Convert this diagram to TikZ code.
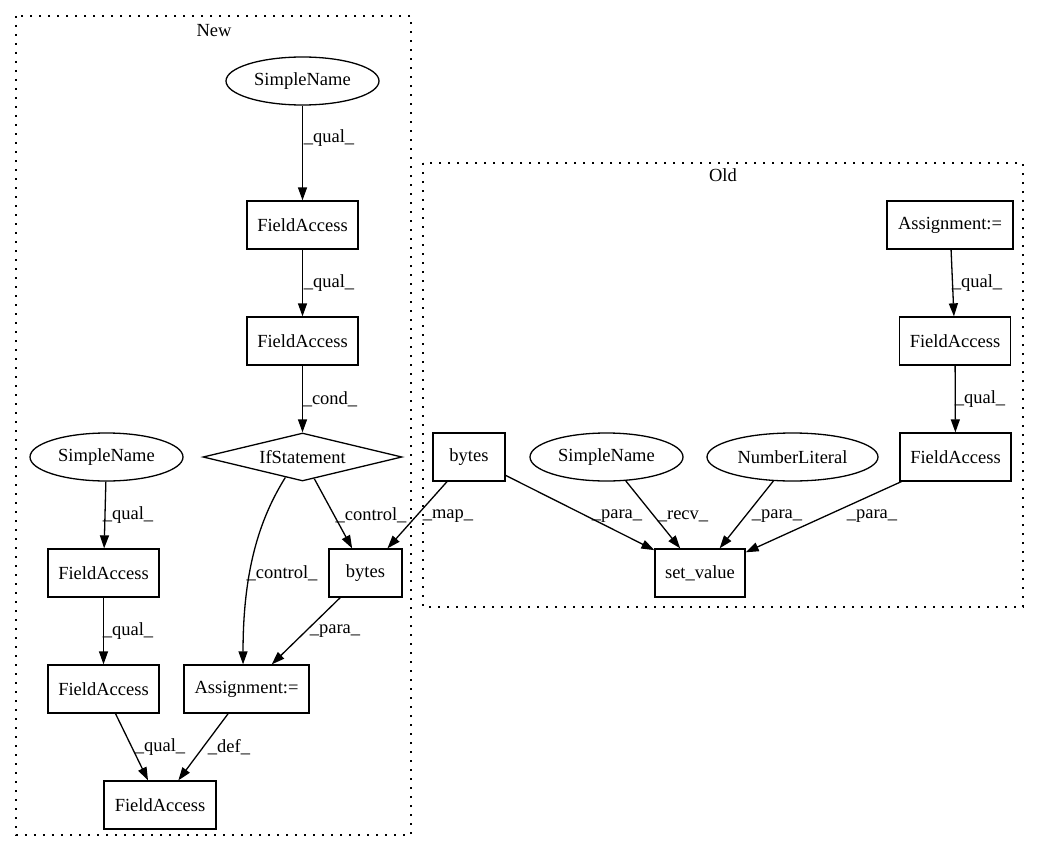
\documentclass[tikz,border=0pt]{standalone}
\usepackage{fontspec}
\setmainfont{Liberation Serif}
\usepackage{tikz}
\usetikzlibrary{arrows.meta}
\usetikzlibrary{shapes.geometric}

\begin{document}
\begin{tikzpicture}[x=1pt, y=-1pt,
	font=\fontsize{18.5}{22}\selectfont,
	box/.style={draw, line width=1.3pt, rectangle, minimum height=48pt, inner sep=0pt},
	oval/.style={draw, line width=1.3pt, ellipse, minimum height=48pt, inner sep=0pt},
	edge/.style={line width=1.3pt, -{Triangle[length=13pt, width=9pt]}},
	lbl/.style={inner sep=0pt},
	cluster/.style={line width=1.3pt, dash pattern=on 1.6pt off 7.4pt}]
	\useasboundingbox (0, 0) rectangle (1040, 856);

	% clusters
	\draw[cluster] (16, 16) rectangle (411, 835);
	\node[lbl] (newlbl) at (214, 31) {New};
	\draw[cluster] (423, 163) rectangle (1023, 607);
	\node[lbl] (oldlbl) at (723, 175) {Old};

	% New
	\node[oval, minimum width=153pt] (nsn) at (302.5, 81) {SimpleName};
	\node[box, minimum width=111pt] (nfa1) at (302.5, 225) {FieldAccess};
	\node[box, minimum width=111pt] (nfa2) at (302.5, 341) {FieldAccess};
	\node[draw, line width=1.3pt, diamond, aspect=4, minimum width=199pt, minimum height=48pt, inner sep=0pt] (nif) at (302.5, 457) {IfStatement};
	\node[box, minimum width=73pt] (nbytes) at (365.5, 573) {bytes};
	\node[oval, minimum width=153pt] (nsn2) at (106.5, 457) {SimpleName};
	\node[box, minimum width=111pt] (nfa3) at (103.5, 573) {FieldAccess};
	\node[box, minimum width=111pt] (nfa4) at (103.5, 689) {FieldAccess};
	\node[box, minimum width=125pt] (nassign) at (246.5, 689) {Assignment:=};
	\node[box, minimum width=112pt] (nfa5) at (160, 805) {FieldAccess};

	% Old
	\node[box, minimum width=126pt] (oassign) at (950, 225) {Assignment:=};
	\node[box, minimum width=111pt] (ofa1) at (955, 341) {FieldAccess};
	\node[box, minimum width=111pt] (ofa2) at (955.5, 457) {FieldAccess};
	\node[box, minimum width=72pt] (obytes) at (469, 457) {bytes};
	\node[oval, minimum width=153pt] (osn) at (606.5, 457) {SimpleName};
	\node[oval, minimum width=171pt] (onum) at (792.5, 457) {NumberLiteral};
	\node[box, minimum width=90pt] (oset) at (700, 573) {set\_value};

	% edges New
	\draw[edge] (nsn) -- (nfa1);
	\node[lbl] (l1) at (329, 138) {\_qual\_};
	\draw[edge] (nfa1) -- (nfa2);
	\node[lbl] (l2) at (329, 283) {\_qual\_};
	\draw[edge] (nfa2) -- (nif);
	\node[lbl] (l3) at (330, 399) {\_cond\_};
	\draw[edge] (nif) -- (nbytes);
	\node[lbl] (l4) at (371, 515) {\_control\_};
	\draw[edge] (nif.230) .. controls (262, 515) and (243, 565) .. (nassign.98);
	\node[lbl] (l5) at (282, 573) {\_control\_};
	\draw[edge] (nbytes) -- (nassign);
	\node[lbl] (l6) at (335, 631) {\_para\_};
	\draw[edge] (nsn2) -- (nfa3);
	\node[lbl] (l7) at (128, 515) {\_qual\_};
	\draw[edge] (nfa3) -- (nfa4);
	\node[lbl] (l8) at (128, 631) {\_qual\_};
	\draw[edge] (nfa4) -- (nfa5);
	\node[lbl] (l9) at (160, 747) {\_qual\_};
	\draw[edge] (nassign) -- (nfa5);
	\node[lbl] (l10) at (229, 747) {\_def\_};

	% edges Old
	\draw[edge] (obytes) -- (nbytes);
	\node[lbl] (l11) at (448, 516) {\_map\_};
	\draw[edge] (obytes) -- (oset);
	\node[lbl] (l12) at (617, 516) {\_para\_};
	\draw[edge] (osn) -- (oset);
	\node[lbl] (l13) at (683, 516) {\_recv\_};
	\draw[edge] (onum) -- (oset);
	\node[lbl] (l14) at (777, 516) {\_para\_};
	\draw[edge] (ofa2) -- (oset);
	\node[lbl] (l15) at (872, 516) {\_para\_};
	\draw[edge] (oassign) -- (ofa1);
	\node[lbl] (l16) at (977, 283) {\_qual\_};
	\draw[edge] (ofa1) -- (ofa2);
	\node[lbl] (l17) at (980, 399) {\_qual\_};

\end{tikzpicture}
\end{document}
